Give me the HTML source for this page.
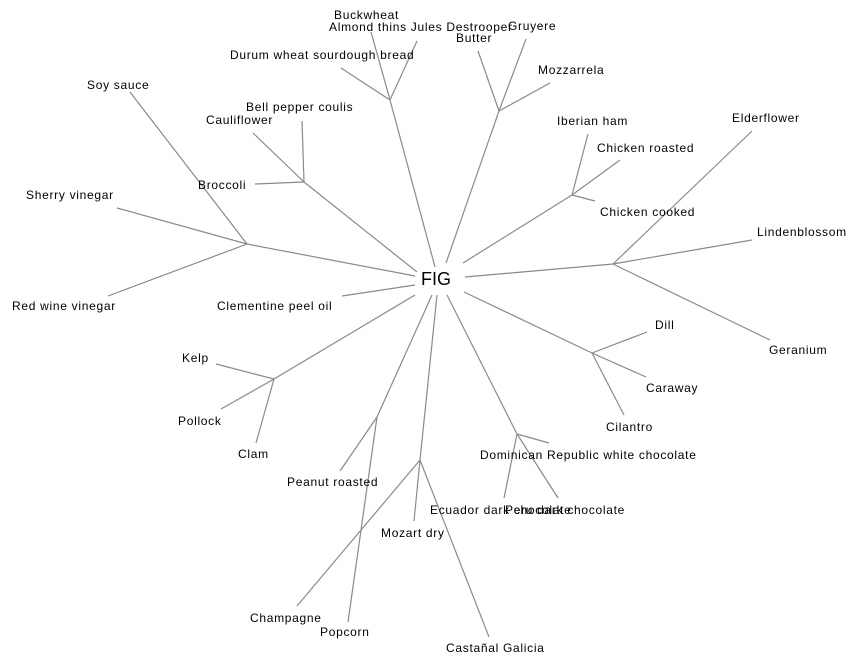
<!DOCTYPE html>
<html><head><meta charset="utf-8"><style>
html,body{margin:0;padding:0;background:#fff;}
svg{display:block;}
text{font-family:"Liberation Sans",Arial,sans-serif;font-size:12px;fill:#000;dominant-baseline:central;letter-spacing:0.7px;}
line{stroke:#8a8a8a;stroke-width:1.2;}
</style></head><body>
<svg width="864" height="666" viewBox="0 0 864 666" xmlns="http://www.w3.org/2000/svg">
<line x1="435" y1="267" x2="390" y2="100"/>
<line x1="390" y1="100" x2="371" y2="32"/>
<line x1="390" y1="100" x2="417" y2="41"/>
<line x1="390" y1="100" x2="341" y2="68"/>
<line x1="446" y1="263" x2="499" y2="111"/>
<line x1="499" y1="111" x2="478" y2="51"/>
<line x1="499" y1="111" x2="526" y2="39"/>
<line x1="499" y1="111" x2="550" y2="83"/>
<line x1="417" y1="272" x2="304" y2="182"/>
<line x1="304" y1="182" x2="253" y2="133"/>
<line x1="304" y1="182" x2="302" y2="121"/>
<line x1="304" y1="182" x2="255" y2="184"/>
<line x1="415" y1="276" x2="247" y2="244"/>
<line x1="247" y1="244" x2="130" y2="92"/>
<line x1="247" y1="244" x2="117" y2="208"/>
<line x1="247" y1="244" x2="108" y2="296"/>
<line x1="463" y1="263" x2="572" y2="195"/>
<line x1="572" y1="195" x2="588" y2="134"/>
<line x1="572" y1="195" x2="620" y2="160"/>
<line x1="572" y1="195" x2="595" y2="201"/>
<line x1="465" y1="277" x2="613" y2="264"/>
<line x1="613" y1="264" x2="752" y2="131"/>
<line x1="613" y1="264" x2="752" y2="240"/>
<line x1="613" y1="264" x2="770" y2="340"/>
<line x1="415" y1="285" x2="342" y2="296"/>
<line x1="415" y1="295" x2="274" y2="379"/>
<line x1="274" y1="379" x2="216" y2="364"/>
<line x1="274" y1="379" x2="221" y2="409"/>
<line x1="274" y1="379" x2="256" y2="443"/>
<line x1="432" y1="295" x2="377" y2="417"/>
<line x1="377" y1="417" x2="340" y2="471"/>
<line x1="377" y1="417" x2="348" y2="622"/>
<line x1="437" y1="295" x2="420" y2="460"/>
<line x1="420" y1="460" x2="297" y2="606"/>
<line x1="420" y1="460" x2="414" y2="521"/>
<line x1="420" y1="460" x2="489" y2="637"/>
<line x1="447" y1="295" x2="517" y2="434"/>
<line x1="517" y1="434" x2="549" y2="443"/>
<line x1="517" y1="434" x2="504" y2="498"/>
<line x1="517" y1="434" x2="558" y2="498"/>
<line x1="464" y1="292" x2="592" y2="353"/>
<line x1="592" y1="353" x2="647" y2="332"/>
<line x1="592" y1="353" x2="646" y2="377"/>
<line x1="592" y1="353" x2="624" y2="415"/>

<text x="421" y="279" style="font-size:18px;letter-spacing:0">FIG</text>
<text x="334" y="15">Buckwheat</text>
<text x="329" y="27">Almond thins Jules Destrooper</text>
<text x="508" y="26">Gruyere</text>
<text x="456" y="38">Butter</text>
<text x="230" y="55">Durum wheat sourdough bread</text>
<text x="538" y="70">Mozzarrela</text>
<text x="87" y="85">Soy sauce</text>
<text x="246" y="107">Bell pepper coulis</text>
<text x="206" y="120">Cauliflower</text>
<text x="557" y="121">Iberian ham</text>
<text x="732" y="118">Elderflower</text>
<text x="597" y="148">Chicken roasted</text>
<text x="198" y="185">Broccoli</text>
<text x="26" y="195">Sherry vinegar</text>
<text x="600" y="212">Chicken cooked</text>
<text x="757" y="232">Lindenblossom</text>
<text x="12" y="306">Red wine vinegar</text>
<text x="217" y="306">Clementine peel oil</text>
<text x="655" y="325">Dill</text>
<text x="769" y="350">Geranium</text>
<text x="182" y="358">Kelp</text>
<text x="646" y="388">Caraway</text>
<text x="178" y="421">Pollock</text>
<text x="606" y="427">Cilantro</text>
<text x="238" y="454">Clam</text>
<text x="480" y="455">Dominican Republic white chocolate</text>
<text x="287" y="482">Peanut roasted</text>
<text x="430" y="510">Ecuador dark chocolate</text>
<text x="505" y="510">Peru dark chocolate</text>
<text x="381" y="533">Mozart dry</text>
<text x="250" y="618">Champagne</text>
<text x="320" y="632">Popcorn</text>
<text x="446" y="648">Castañal Galicia</text>
</svg>
</body></html>
